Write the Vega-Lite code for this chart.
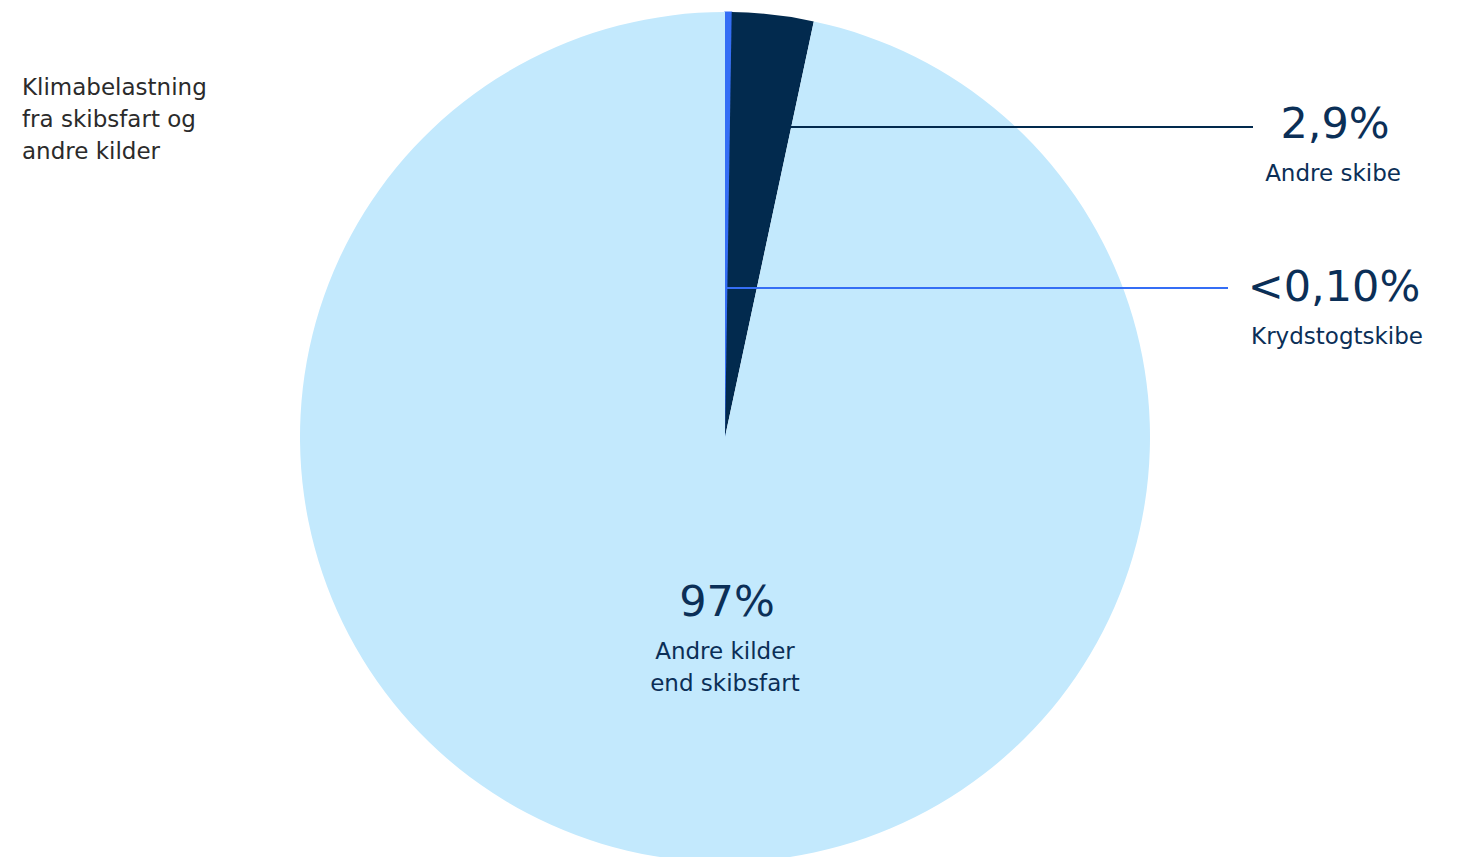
{
  "$schema": "https://vega.github.io/schema/vega-lite/v6.json",
  "width": 1465,
  "height": 857,
  "autosize": "none",
  "padding": 0,
  "background": "white",
  "config": {"view": {"stroke": null}, "font": "DejaVu Sans"},
  "datasets": {
    "slices": [
      {"kategori": "Krydstogtskibe", "andel": 0.25, "ord": 1, "cx": 725, "cy": 437},
      {"kategori": "Andre skibe", "andel": 3.1, "ord": 2, "cx": 725, "cy": 437},
      {"kategori": "Andre kilder end skibsfart", "andel": 96.65, "ord": 3, "cx": 725, "cy": 437}
    ],
    "lines": [
      {"kategori": "Andre skibe", "x1": 790, "x2": 1253, "y": 127},
      {"kategori": "Krydstogtskibe", "x1": 727, "x2": 1228, "y": 288}
    ],
    "numbers": [
      {"text": "2,9%", "x": 1335, "y": 125},
      {"text": "<0,10%", "x": 1334, "y": 288},
      {"text": "97%", "x": 727, "y": 603}
    ],
    "names": [
      {"text": ["Andre skibe"], "x": 1333, "y": 174},
      {"text": ["Krydstogtskibe"], "x": 1337, "y": 337},
      {"text": ["Andre kilder", "end skibsfart"], "x": 725, "y": 652}
    ],
    "title": [
      {"text": ["Klimabelastning", "fra skibsfart og", "andre kilder"], "x": 22, "y": 88}
    ]
  },
  "layer": [
    {
      "data": {"name": "slices"},
      "mark": {"type": "arc", "radius": 425, "stroke": "#356ef5"},
      "encoding": {
        "x": {"field": "cx", "type": "quantitative", "scale": {"domain": [0, 1465], "nice": false, "zero": false}, "axis": null},
        "y": {"field": "cy", "type": "quantitative", "scale": {"domain": [0, 857], "nice": false, "zero": false, "reverse": true}, "axis": null},
        "theta": {"field": "andel", "type": "quantitative", "stack": true},
        "order": {"field": "ord", "type": "quantitative"},
        "strokeWidth": {"condition": {"test": "datum.kategori === 'Krydstogtskibe'", "value": 1.2}, "value": 0},
        "color": {
          "field": "kategori", "type": "nominal", "legend": null,
          "scale": {"domain": ["Krydstogtskibe", "Andre skibe", "Andre kilder end skibsfart"], "range": ["#356ef5", "#022a4e", "#c3e9fd"]}
        }
      }
    },
    {
      "data": {"name": "lines"},
      "mark": {"type": "rule", "strokeWidth": 2.2},
      "encoding": {
        "x": {"field": "x1", "type": "quantitative"},
        "x2": {"field": "x2"},
        "y": {"field": "y", "type": "quantitative"},
        "color": {"field": "kategori", "type": "nominal", "legend": null}
      }
    },
    {
      "data": {"name": "numbers"},
      "mark": {"type": "text", "fontSize": 43, "align": "center", "baseline": "middle", "color": "#0b2f57", "font": "DejaVu Sans", "fontWeight": "normal"},
      "encoding": {
        "x": {"field": "x", "type": "quantitative"},
        "y": {"field": "y", "type": "quantitative"},
        "text": {"field": "text"}
      }
    },
    {
      "data": {"name": "names"},
      "mark": {"type": "text", "fontSize": 23, "align": "center", "baseline": "middle", "lineHeight": 32, "color": "#0b2f57", "font": "DejaVu Sans"},
      "encoding": {
        "x": {"field": "x", "type": "quantitative"},
        "y": {"field": "y", "type": "quantitative"},
        "text": {"field": "text"}
      }
    },
    {
      "data": {"name": "title"},
      "mark": {"type": "text", "fontSize": 23, "align": "left", "baseline": "middle", "lineHeight": 32, "color": "#2b2b2b", "font": "DejaVu Sans"},
      "encoding": {
        "x": {"field": "x", "type": "quantitative"},
        "y": {"field": "y", "type": "quantitative"},
        "text": {"field": "text"}
      }
    }
  ]
}
